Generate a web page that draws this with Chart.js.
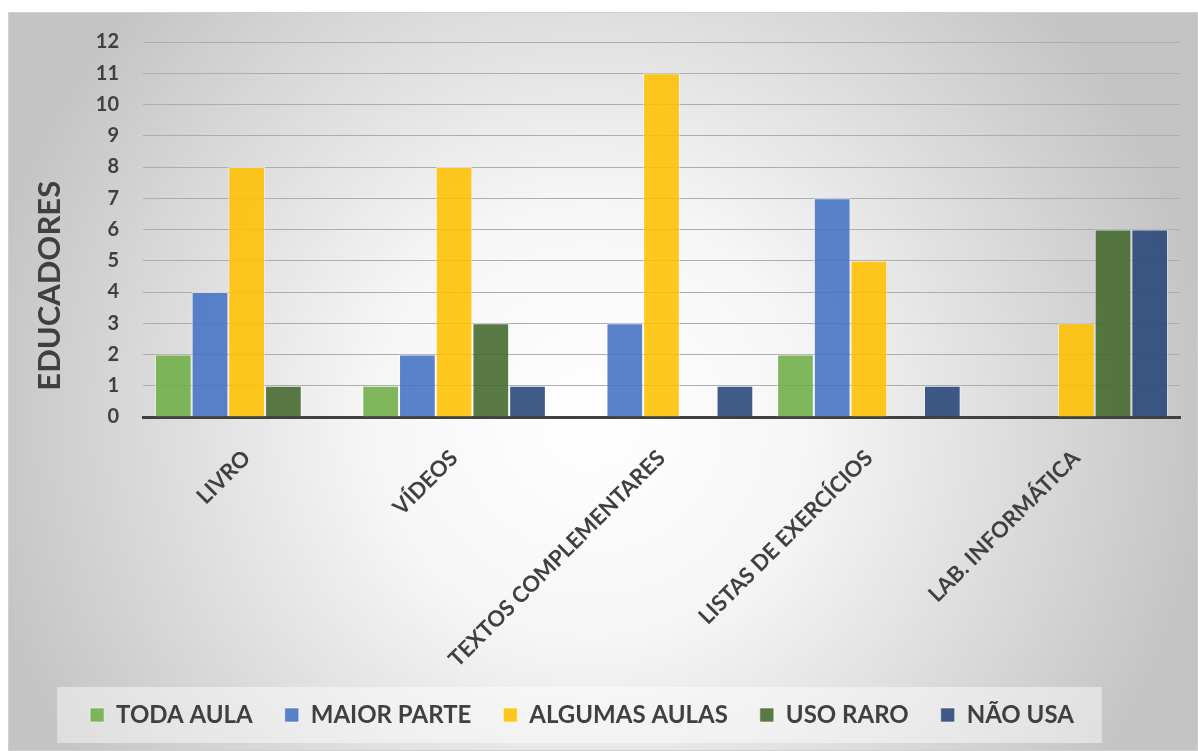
<!DOCTYPE html>
<html>
<head>
<meta charset="utf-8">
<script src="https://cdn.jsdelivr.net/npm/chart.js@4.4.1/dist/chart.umd.min.js"></script>
<style>
    body { margin: 0; background: #ffffff; }
    #wrap { position: absolute; left: 8px; top: 12px; width: 1190px; height: 739px; }
</style>
</head>
<body>
<div id="wrap"><canvas id="usoChart"></canvas></div>
<script>
// Recursos usados pelos educadores
const categorias = ['LIVRO', 'VÍDEOS', 'TEXTOS COMPLEMENTARES', 'LISTAS DE EXERCÍCIOS', 'LAB. INFORMÁTICA'];

const todaAula = [2, 1, 0, 2, 0];
const maiorParte = [4, 2, 3, 7, 0];
const algumasAulas = [8, 8, 11, 5, 3];
const usoRaro = [1, 3, 0, 0, 6];
const naoUsa = [0, 1, 1, 1, 6];

const ticksY = [0, 1, 2, 3, 4, 5, 6, 7, 8, 9, 10, 11, 12];

const tituloY = 'EDUCADORES';

const FONTE = 'Lato, "Open Sans", sans-serif';
const TEXTO = '#404040';


// Background, legend panel and the y axis title
const fundoPlugin = {
    id: 'fundo',
    afterLayout(chart) {
        // move the legend a bit to the left
        const lg = chart.legend;
        lg.left -= 12;
        lg.right -= 12;
    },
    beforeDraw(chart) {
        const ctx = chart.ctx;
        const w = chart.width;
        const h = chart.height;

        ctx.save();
        const g = ctx.createRadialGradient(582, 408, 0, 582, 408, 620);
        g.addColorStop(0, '#ffffff');
        g.addColorStop(0.35, '#f6f6f6');
        g.addColorStop(1, '#c4c4c4');
        ctx.fillStyle = g;
        ctx.fillRect(0, 0, w, h);

        ctx.strokeStyle = '#d0d0d0';
        ctx.lineWidth = 1;
        ctx.strokeRect(0.5, 0.5, w - 1, h - 1);

        const boxes = chart.legend.legendHitBoxes;
        if (boxes && boxes.length) {
            const first = boxes[0];
            const last = boxes[boxes.length - 1];
            ctx.fillStyle = 'rgba(255, 255, 255, 0.45)';
            ctx.fillRect(first.left - 33, first.top + first.height / 2 - 28,
                         last.left + last.width - first.left + 61, 56);
        }
        ctx.restore();
    },
    afterDraw(chart) {
        // title sits a bit lower than the middle of the axis
        const ctx = chart.ctx;
        const area = chart.chartArea;
        ctx.save();
        ctx.translate(42, area.top + (area.bottom - area.top) * 0.65);
        ctx.rotate(-Math.PI / 2);
        ctx.fillStyle = TEXTO;
        ctx.font = 'bold 31px ' + FONTE;
        ctx.textAlign = 'center';
        ctx.textBaseline = 'middle';
        ctx.fillText(tituloY, 0, 0);
        ctx.restore();
    }
};


function serie(label, data, cor) {
    return {
        label: label,
        data: data,
        backgroundColor: cor,
        borderColor: 'rgba(255, 255, 255, 0.55)',
        borderWidth: 1,
        categoryPercentage: 0.885,
        barPercentage: 1.0
    };
}


const ctx = document.getElementById('usoChart').getContext('2d');

new Chart(ctx, {
    type: 'bar',

    data: {
        labels: categorias,
        datasets: [
            serie('TODA AULA', todaAula, 'rgba(112, 173, 71, 0.88)'),
            serie('MAIOR PARTE', maiorParte, 'rgba(68, 114, 196, 0.88)'),
            serie('ALGUMAS AULAS', algumasAulas, 'rgba(255, 192, 0, 0.88)'),
            serie('USO RARO', usoRaro, 'rgba(67, 104, 43, 0.88)'),
            serie('NÃO USA', naoUsa, 'rgba(38, 68, 120, 0.88)')
        ]
    },

    plugins: [fundoPlugin],

    options: {
        responsive: true,
        maintainAspectRatio: false,
        animation: false,

        layout: {
            padding: { top: 30, right: 18, bottom: 14, left: 0 }
        },

        plugins: {
            legend: {
                position: 'bottom',
                labels: {
                    boxWidth: 14,
                    boxHeight: 14,
                    padding: 32,
                    color: TEXTO,
                    font: { family: FONTE, size: 24, weight: 'bold' }
                }
            },
            tooltip: { enabled: false }
        },

        scales: {
            x: {
                grid: { display: false },
                border: { display: true, color: '#404040', width: 3 },
                ticks: {
                    color: TEXTO,
                    maxRotation: 45,
                    minRotation: 45,
                    padding: 20,
                    font: { family: FONTE, size: 22, weight: 'bold' }
                },
                afterFit(scale) {
                    scale.height = 254;
                }
            },
            y: {
                min: 0,
                max: 12,
                afterBuildTicks(scale) {
                    scale.ticks = ticksY.map(v => ({ value: v }));
                },
                grid: { color: '#adadad', lineWidth: 1, drawTicks: false },
                border: { display: false },
                ticks: {
                    color: TEXTO,
                    padding: 24,
                    font: { family: FONTE, size: 20, weight: 'bold' }
                },
                afterFit(scale) {
                    scale.width = 135;
                    scale.paddingTop = 0;
                    scale.paddingBottom = 0;
                }
            }
        }
    }
});
</script>
</body>
</html>
